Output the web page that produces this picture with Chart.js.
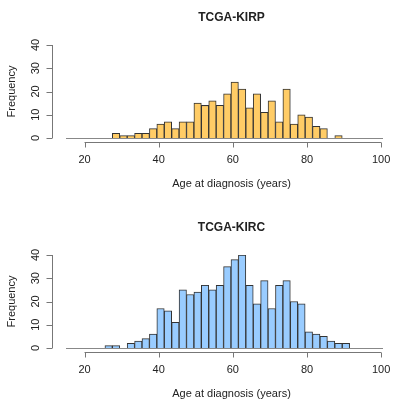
<!DOCTYPE html>
<html><head><meta charset="utf-8">
<script src="https://cdn.jsdelivr.net/npm/chart.js@4/dist/chart.umd.min.js"></script>
<style>body{margin:0;background:#fff}canvas{display:block}</style>
</head><body>
<div style="width:420px;height:204px"><canvas id="c1"></canvas></div>
<div style="width:420px;height:204px"><canvas id="c2"></canvas></div>
<script>
const xTicks = [20, 40, 60, 80, 100];
const yTicks = [0, 10, 20, 30, 40];
const kirpStart = 27.5;
const kirpCounts = [2,1,1,2,2,4,6,7,4,7,7,15,14,16,14,19,24,21,13,19,11,16,7,21,6,10,9,5,4,0,1];
const kircStart = 25.5;
const kircCounts = [1,1,0,2,3,4,6,17,16,11,25,23,24,27,25,27,35,38,40,27,19,29,17,27,29,20,19,7,6,5,3,2,2];
const binWidth = 2;
const xLabel = "Age at diagnosis (years)";
const yLabel = "Frequency";

const axisPlugin = {
  id: 'rAxes',
  afterDraw(chart) {
    const ctx = chart.ctx, xs = chart.scales.x, ys = chart.scales.y, a = chart.chartArea;
    const opt = chart.options.plugins.rAxes;
    const y0 = ys.getPixelForValue(0);
    ctx.save();
    ctx.strokeStyle = '#888'; ctx.lineWidth = 1;
    ctx.beginPath(); ctx.moveTo(a.left, y0 + 0.5); ctx.lineTo(a.right, y0 + 0.5); ctx.stroke();
    const ya = y0 + 4.5;
    ctx.strokeStyle = '#777';
    ctx.beginPath();
    ctx.moveTo(xs.getPixelForValue(xTicks[0]), ya); ctx.lineTo(xs.getPixelForValue(xTicks[xTicks.length-1]), ya);
    xTicks.forEach(t => { const p = Math.round(xs.getPixelForValue(t)) + 0.5; ctx.moveTo(p, ya); ctx.lineTo(p, ya + 5); });
    ctx.stroke();
    ctx.fillStyle = '#222'; ctx.font = '11px "Liberation Sans", Arial, sans-serif';
    ctx.textAlign = 'center'; ctx.textBaseline = 'middle';
    xTicks.forEach(t => ctx.fillText(String(t), xs.getPixelForValue(t), y0 + 22));
    ctx.fillText(xLabel, (a.left + a.right) / 2 + 7, y0 + 46);
    const xa = 52.5;
    ctx.beginPath();
    ctx.moveTo(xa, ys.getPixelForValue(yTicks[0])); ctx.lineTo(xa, ys.getPixelForValue(yTicks[yTicks.length-1]));
    yTicks.forEach(t => { const p = Math.round(ys.getPixelForValue(t)) + 0.5; ctx.moveTo(xa, p); ctx.lineTo(xa - 6, p); });
    ctx.stroke();
    yTicks.forEach(t => {
      ctx.save(); ctx.translate(36, ys.getPixelForValue(t)); ctx.rotate(-Math.PI/2);
      ctx.fillText(String(t), 0, 0); ctx.restore();
    });
    ctx.save(); ctx.translate(12, (ys.getPixelForValue(0) + ys.getPixelForValue(40)) / 2); ctx.rotate(-Math.PI/2);
    ctx.fillText(yLabel, 0, 0); ctx.restore();
    ctx.font = 'bold 12px "Liberation Sans", Arial, sans-serif';
    ctx.fillText(opt.title, (a.left + a.right) / 2 + 7, opt.titleY);
    ctx.restore();
  }
};

function makeChart(id, start, counts, color, title, titleY, padTop, padBottom) {
  const data = counts.map((c, i) => ({x: start + binWidth * i + binWidth / 2, y: c}));
  new Chart(document.getElementById(id), {
    type: 'bar',
    data: { datasets: [{ data, backgroundColor: counts.map(c => c > 0 ? color : 'rgba(0,0,0,0)'),
      borderColor: counts.map(c => c > 0 ? '#333' : 'rgba(0,0,0,0)'), borderWidth: 1,
      barPercentage: 1, categoryPercentage: 1 }] },
    options: {
      responsive: true, maintainAspectRatio: false, animation: false,
      layout: { padding: { left: 66, right: 37, top: padTop, bottom: padBottom } },
      scales: {
        x: { type: 'linear', min: 15, max: 100.5, offset: false, bounds: 'ticks', display: false },
        y: { min: 0, max: 40, display: false }
      },
      plugins: { legend: { display: false }, tooltip: { enabled: false }, rAxes: { title, titleY } }
    },
    plugins: [axisPlugin]
  });
}
makeChart('c1', kirpStart, kirpCounts, '#FFCC66', 'TCGA-KIRP', 18, 45, 66);
makeChart('c2', kircStart, kircCounts, '#99CCFF', 'TCGA-KIRC', 24, 51, 60);
</script>
</body></html>
